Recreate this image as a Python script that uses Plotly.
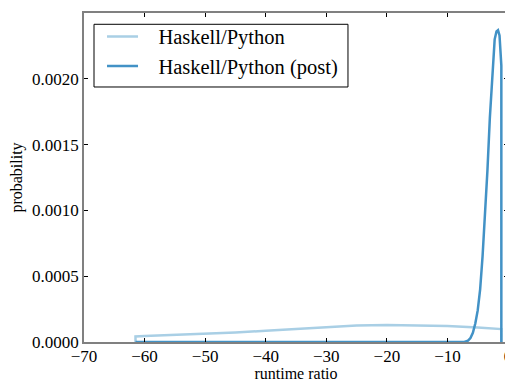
import plotly.graph_objects as go

# prior (Haskell/Python)
prior_x = [-61.5, -61.5, -60, -55, -50, -45, -40, -35, -30, -25, -20, -15, -10, -5, -1.1, -1.1]
prior_y = [0.0, 0.000042, 0.000045, 0.000053, 0.000062, 0.000072, 0.000085, 0.000100,
           0.000115, 0.000125, 0.000129, 0.000128, 0.000122, 0.000110, 0.000098, 0.0]

# posterior (Haskell/Python (post))
post_x = [-61.5, -8.0, -7.2, -6.6, -6.2, -5.8, -5.4, -5.0, -4.6, -4.2, -3.8, -3.4,
          -3.0, -2.6, -2.2, -1.9, -1.65, -1.4, -1.2, -1.1, -1.1]
post_y = [0.0, 0.0, 0.0, 0.00001, 0.00003, 0.00007, 0.00014, 0.00024, 0.0004, 0.00065,
          0.00095, 0.0013, 0.0017, 0.00205, 0.0023, 0.00236, 0.00237, 0.00233, 0.00222,
          0.0021, 0.0]

series_names = ["Haskell/Python", "Haskell/Python (post)"]
x_ticks = [-70, -60, -50, -40, -30, -20, -10, 0]
y_ticks = [0.0, 0.0005, 0.0010, 0.0015, 0.0020, 0.0025]

FONT = "Liberation Serif"
PAD = "\u00a0\u00a0\u00a0"  # gap between legend line sample and its label

fig = go.Figure()
fig.add_trace(go.Scatter(x=prior_x, y=prior_y, mode="lines", name=PAD + series_names[0],
                         line=dict(color="#a9cfe5", width=2.5)))
fig.add_trace(go.Scatter(x=post_x, y=post_y, mode="lines", name=PAD + series_names[1],
                         line=dict(color="#4292c6", width=2.5)))

axis_common = dict(showgrid=False, zeroline=False, showline=True, linecolor="#808080",
                   linewidth=1.5, mirror="ticks", ticks="inside", ticklen=4,
                   tickcolor="black", tickwidth=1, automargin=False,
                   tickfont=dict(family=FONT, size=17, color="black"))

# the page body has an 8px margin, so the figure is sized to fit the window
fig.update_layout(
    width=505, height=374,
    margin=dict(l=76, r=5, t=5, b=40),
    paper_bgcolor="white", plot_bgcolor="white",
    font=dict(family=FONT, color="black"),
    xaxis=dict(range=[-70, 0], tickvals=x_ticks, ticklabelstandoff=-2,
               title=dict(text="runtime ratio", font=dict(family=FONT, size=16), standoff=3),
               **axis_common),
    yaxis=dict(range=[0, 0.0025], tickvals=y_ticks, tickformat=".4f",
               title=dict(text="probability", font=dict(family=FONT, size=16), standoff=8),
               **axis_common),
    legend=dict(x=0.0425, y=0.989, xanchor="left", yanchor="top",
                bgcolor="rgba(0,0,0,0)", borderwidth=0,
                font=dict(family=FONT, size=20.5, color="black"),
                itemwidth=31, tracegroupgap=0),
    showlegend=True,
    shapes=[dict(type="rect", xref="paper", yref="paper",
                 x0=0.0236, x1=0.6226, y0=0.7751, y1=0.9657,
                 line=dict(color="black", width=1), fillcolor="white", layer="below")],
)

fig.write_html("out.html")
